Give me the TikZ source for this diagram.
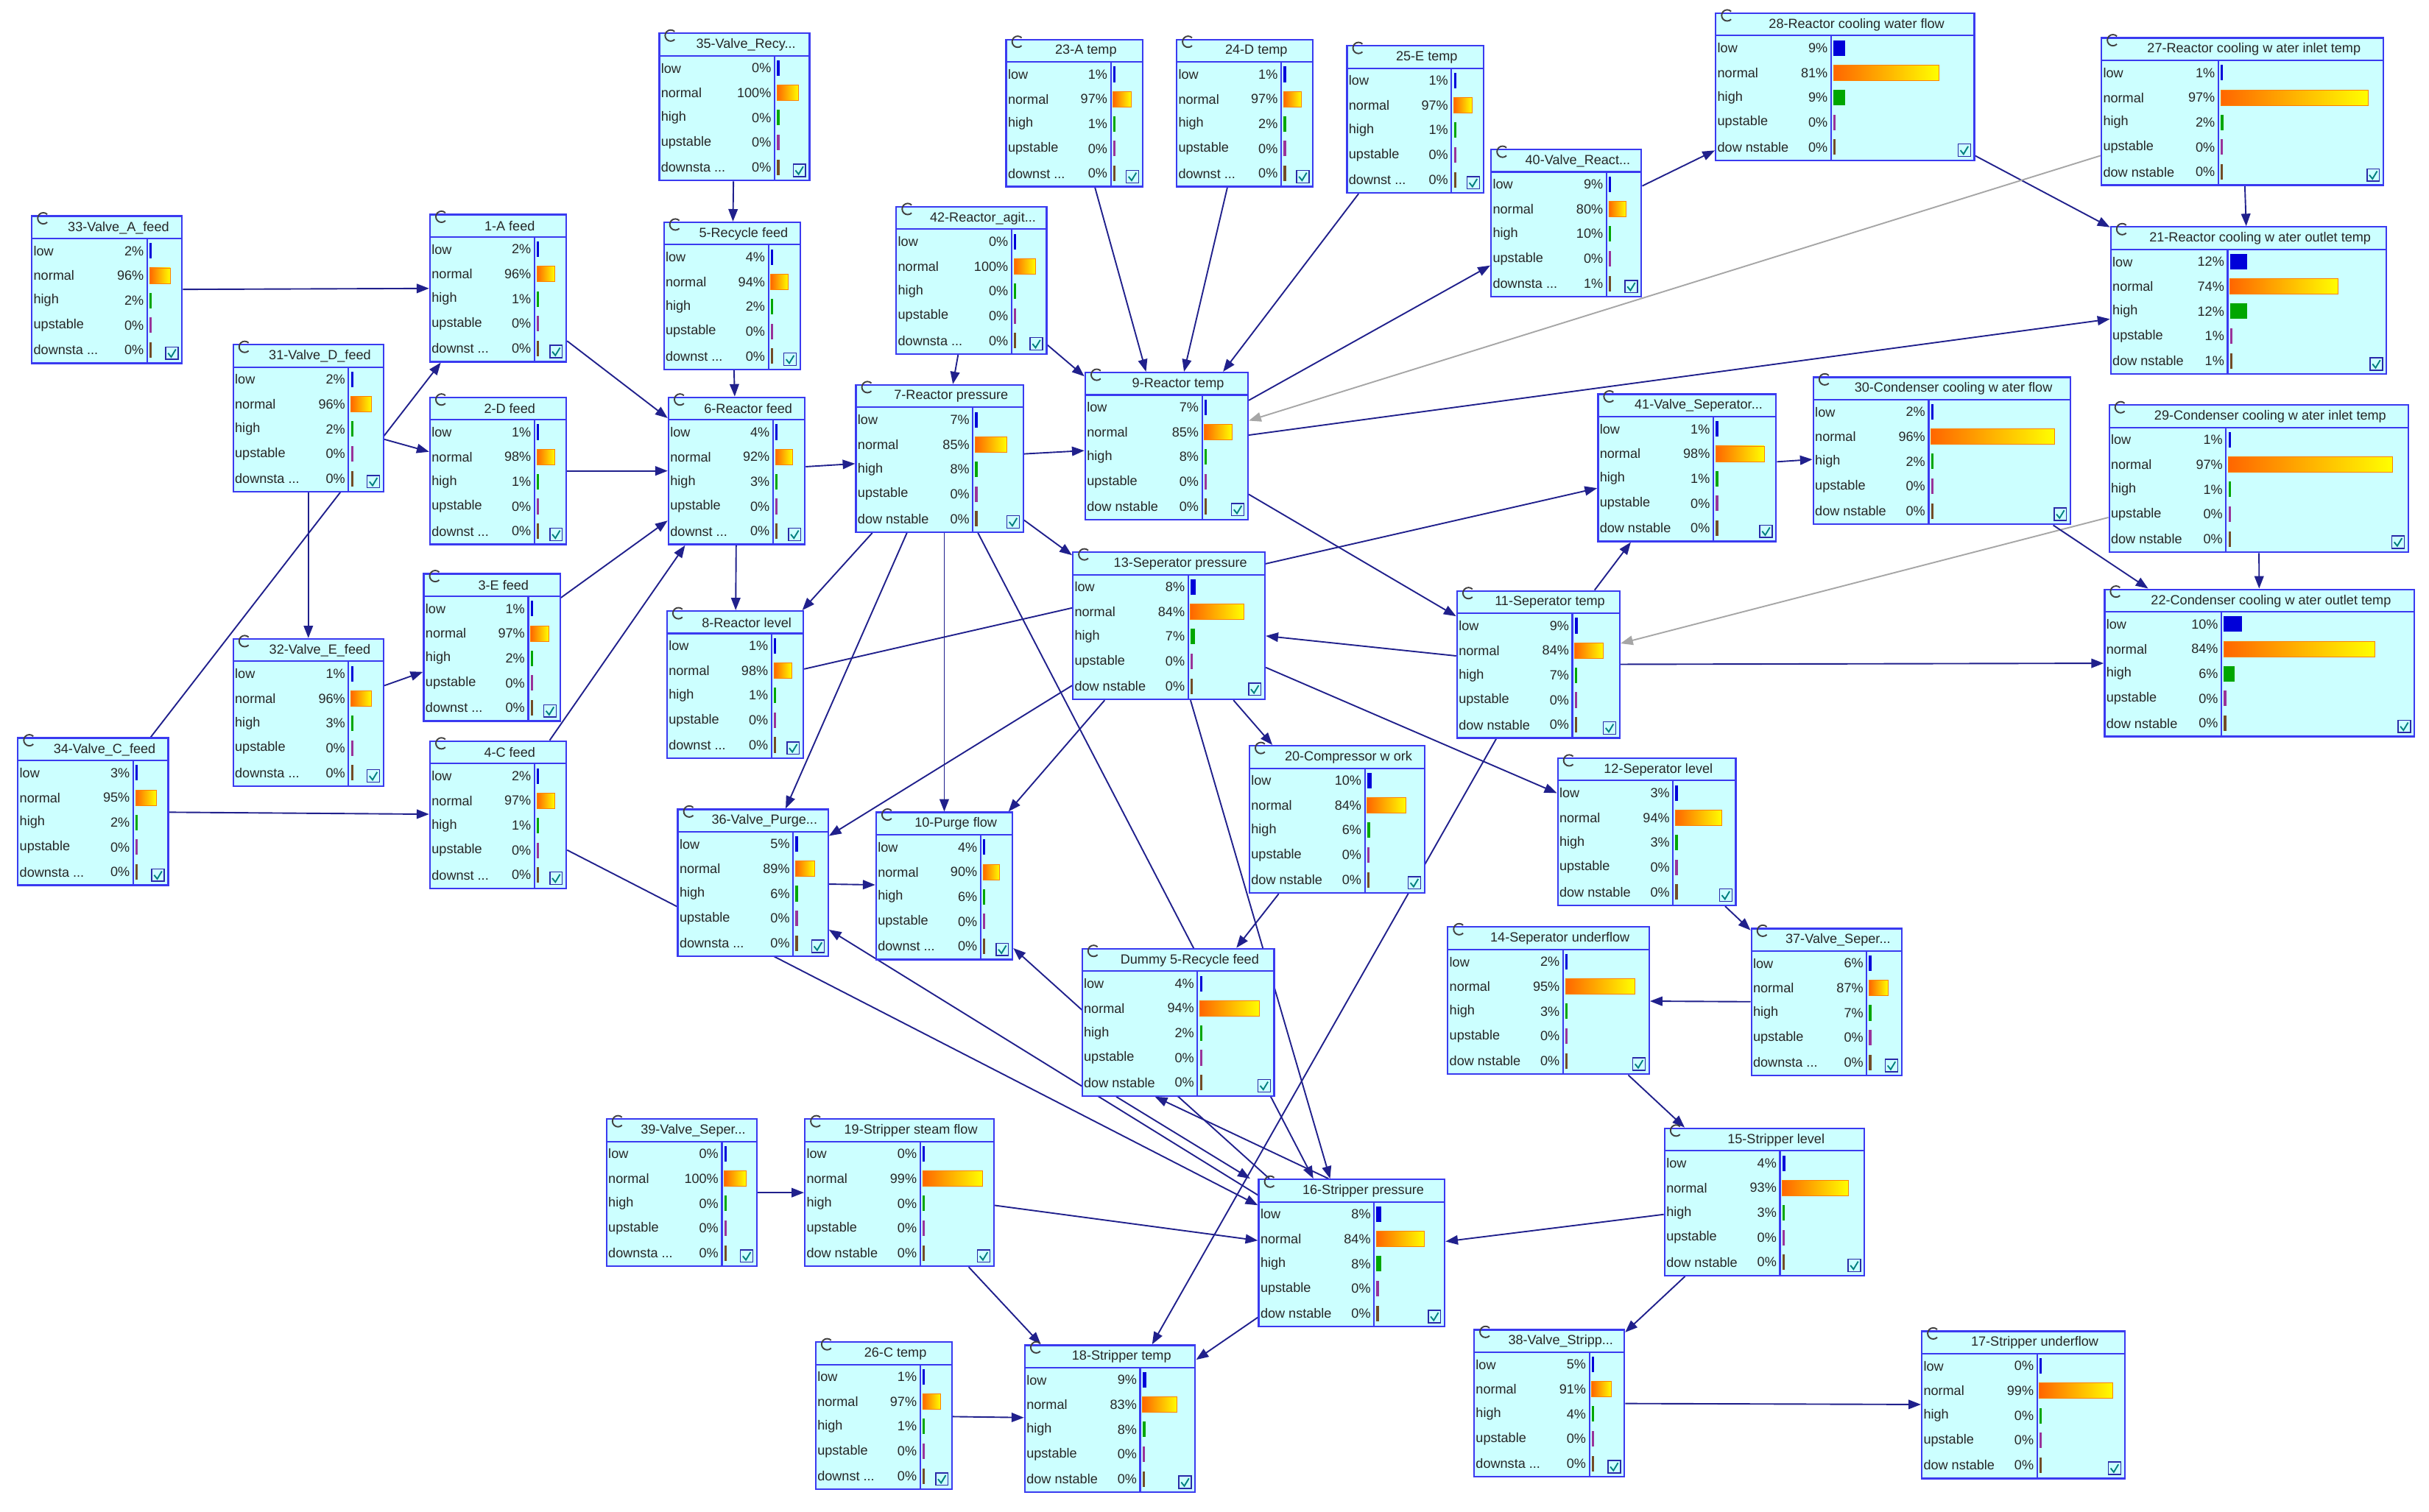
\documentclass[tikz,border=0pt]{standalone}
\usepackage{fontspec}
\newfontfamily\bnfont{Liberation Sans}
\usetikzlibrary{arrows.meta,backgrounds,calc}
\definecolor{boxfill}{HTML}{CCFFFF}
\definecolor{boxline}{HTML}{3A3AF0}
\definecolor{edge}{HTML}{20208C}
\tikzset{
  box/.style={draw=boxline,fill=boxfill,line width=1.1pt,inner sep=0pt},
  bline/.style={draw=boxline,line width=1pt},
  txt/.style={inner sep=0pt,font=\bnfont\fontsize{8.6}{10}\selectfont,text=black!85},
  ttl/.style={inner sep=0pt,font=\bnfont\fontsize{8.6}{10}\selectfont,text=black!85},
  e/.style={draw=edge,line width=0.9pt,-{Triangle[length=8pt,width=6pt]}},
  g/.style={draw=gray!70,line width=0.9pt,-{Triangle[length=8pt,width=6pt]}},
}
% name x y w title pcts downlabel sep
\newcommand\bn[8]{%
  \node[box,minimum width=#4pt,minimum height=95pt,anchor=north west] (#1) at (#2,#3) {};
  \draw[bline] (#2,#3+15) -- ++(#4,0);
  \draw[bline] (#2+#8,#3+15) -- (#2+#8,#3+95);
  \draw[black!75,line width=0.9pt] (#2+10.5,#3+4.5) arc[start angle=45,end angle=315,radius=3.6];
  \node[ttl] at (#2+8+#4/2,#3+8) {#5};
  \foreach \p [count=\i] in {#6}{%
    \pgfmathsetmacro\ry{#3+7+\i*16}%
    \node[txt,anchor=west] at (#2+1.5,\ry) {\ifcase\i\or low\or normal\or high\or upstable\or #7\fi};
    \node[txt,anchor=east] at (#2+#8-2,\ry) {\p\%};
    \pgfmathsetmacro\bw{max(1.6,\p/100*(#4-#8-8))}%
    \ifcase\i\or
      \fill[blue!85!black] (#2+#8+1.5,\ry-5) rectangle ++(\bw,10);
    \or
      \shade[left color=orange!80!red,right color=yellow,draw=orange] (#2+#8+1.5,\ry-5) rectangle ++(\bw,10);
    \or
      \fill[green!65!black] (#2+#8+1.5,\ry-5) rectangle ++(\bw,10);
    \or
      \fill[violet!80] (#2+#8+1.5,\ry-5) rectangle ++(\bw,10);
    \or
      \fill[brown!60!black] (#2+#8+1.5,\ry-5) rectangle ++(\bw,10);
    \fi
  }
  \draw[draw=boxline!70!black,fill=boxfill,line width=0.7pt] (#2+#4-10,#3+85) rectangle ++(8,8);
  \draw[teal,line width=0.9pt] (#2+#4-8.5,#3+89) -- (#2+#4-6.5,#3+91.5) -- (#2+#4-3.5,#3+86.5);
}
\begin{document}
\begin{tikzpicture}[x=1pt,y=-1pt]
\useasboundingbox (0,0) rectangle (1568,976);
\bn{n33}{20}{139}{97}{33-Valve\_A\_feed}{2,96,2,0,0}{downsta ...}{75}
\bn{n1}{277}{138}{88}{1-A feed}{2,96,1,0,0}{downst ...}{68}
\bn{n35}{425}{21}{97}{35-Valve\_Recy...}{0,100,0,0,0}{downsta ...}{75}
\bn{n5}{428}{143}{88}{5-Recycle feed}{4,94,2,0,0}{downst ...}{68}
\bn{n42}{578}{133}{97}{42-Reactor\_agit...}{0,100,0,0,0}{downsta ...}{75}
\bn{n23}{649}{25}{88}{23-A temp}{1,97,1,0,0}{downst ...}{68}
\bn{n24}{759}{25}{88}{24-D temp}{1,97,2,0,0}{downst ...}{68}
\bn{n25}{869}{29}{88}{25-E temp}{1,97,1,0,0}{downst ...}{68}
\bn{n40}{962}{96}{97}{40-Valve\_React...}{9,80,10,0,1}{downsta ...}{75}
\bn{n28}{1107}{8}{167}{28-Reactor cooling water flow}{9,81,9,0,0}{dow nstable}{75}
\bn{n27}{1356}{24}{182}{27-Reactor cooling w ater inlet temp}{1,97,2,0,0}{dow nstable}{76}
\bn{n21}{1362}{146}{178}{21-Reactor cooling w ater outlet temp}{12,74,12,1,1}{dow nstable}{76}
\bn{n31}{150}{222}{97}{31-Valve\_D\_feed}{2,96,2,0,0}{downsta ...}{75}
\bn{n2}{277}{256}{88}{2-D feed}{1,98,1,0,0}{downst ...}{68}
\bn{n6}{431}{256}{88}{6-Reactor feed}{4,92,3,0,0}{downst ...}{68}
\bn{n7}{552}{248}{108}{7-Reactor pressure}{7,85,8,0,0}{dow nstable}{76}
\bn{n9}{700}{240}{105}{9-Reactor temp}{7,85,8,0,0}{dow nstable}{76}
\bn{n41}{1031}{254}{115}{41-Valve\_Seperator...}{1,98,1,0,0}{dow nstable}{75}
\bn{n30}{1170}{243}{166}{30-Condenser cooling w ater flow}{2,96,2,0,0}{dow nstable}{75}
\bn{n29}{1361}{261}{193}{29-Condenser cooling w ater inlet temp}{1,97,1,0,0}{dow nstable}{76}
\bn{n3}{273}{370}{88}{3-E feed}{1,97,2,0,0}{downst ...}{68}
\bn{n8}{430}{394}{88}{8-Reactor level}{1,98,1,0,0}{downst ...}{68}
\bn{n13}{692}{356}{124}{13-Seperator pressure}{8,84,7,0,0}{dow nstable}{75}
\bn{n11}{940}{381}{105}{11-Seperator temp}{9,84,7,0,0}{dow nstable}{75}
\bn{n22}{1358}{380}{200}{22-Condenser cooling w ater outlet temp}{10,84,6,0,0}{dow nstable}{76}
\bn{n32}{150}{412}{97}{32-Valve\_E\_feed}{1,96,3,0,0}{downsta ...}{75}
\bn{n34}{11}{476}{97}{34-Valve\_C\_feed}{3,95,2,0,0}{downsta ...}{75}
\bn{n4}{277}{478}{88}{4-C feed}{2,97,1,0,0}{downst ...}{68}
\bn{n36}{437}{522}{97}{36-Valve\_Purge...}{5,89,6,0,0}{downsta ...}{75}
\bn{n10}{565}{524}{88}{10-Purge flow}{4,90,6,0,0}{downst ...}{68}
\bn{n20}{806}{481}{113}{20-Compressor w ork}{10,84,6,0,0}{dow nstable}{75}
\bn{n12}{1005}{489}{115}{12-Seperator level}{3,94,3,0,0}{dow nstable}{75}
\bn{n14}{934}{598}{130}{14-Seperator underflow}{2,95,3,0,0}{dow nstable}{75}
\bn{n37}{1130}{599}{97}{37-Valve\_Seper...}{6,87,7,0,0}{downsta ...}{75}
\bn{d5}{698}{612}{124}{Dummy 5-Recycle feed}{4,94,2,0,0}{dow nstable}{75}
\bn{n39}{391}{722}{97}{39-Valve\_Seper...}{0,100,0,0,0}{downsta ...}{75}
\bn{n19}{519}{722}{122}{19-Stripper steam flow}{0,99,0,0,0}{dow nstable}{75}
\bn{n16}{812}{761}{120}{16-Stripper pressure}{8,84,8,0,0}{dow nstable}{75}
\bn{n15}{1074}{728}{129}{15-Stripper level}{4,93,3,0,0}{dow nstable}{75}
\bn{n26}{526}{866}{88}{26-C temp}{1,97,1,0,0}{downst ...}{68}
\bn{n18}{661}{868}{110}{18-Stripper temp}{9,83,8,0,0}{dow nstable}{75}
\bn{n38}{951}{858}{97}{38-Valve\_Stripp...}{5,91,4,0,0}{downsta ...}{75}
\bn{n17}{1240}{859}{131}{17-Stripper underflow}{0,99,0,0,0}{dow nstable}{75}
\begin{pgfonlayer}{background}
\draw[e] (n33) -- (n1);
\draw[e] (n34) -- (n1);
\draw[e] (n31) -- (n2);
\draw[e] (n31) -- (n32);
\draw[e] (n32) -- (n3);
\draw[e] (n34) -- (n4);
\draw[e] (n1) -- (n6);
\draw[e] (n2) -- (n6);
\draw[e] (n3) -- (n6);
\draw[e] (n4) -- (n6);
\draw[e] (n5) -- (n6);
\draw[e] (n35) -- (n5);
\draw[e] (n6) -- (n7);
\draw[e] (n6) -- (n8);
\draw[e] (n42) -- (n7);
\draw[e] (n42) -- (n9);
\draw[e] (n7) -- (n9);
\draw[e] (n7) -- (n13);
\draw[e] (n7) -- (n8);
\draw[e] (n7) -- (n36);
\draw[e] (n7.south-|n10.north) -- (n10);
\draw[e] (n7) -- (n16);
\draw[e] (n23) -- (n9);
\draw[e] (n24) -- (n9);
\draw[e] (n25) -- (n9);
\draw[e] (n9) -- (n40);
\draw[e] (n40) -- (n28);
\draw[e] (n28) -- (n21);
\draw[e] (n27) -- (n21);
\draw[e] (n9) -- (n21);
\draw[g] (n27) -- (n9);
\draw[g] (n29) -- (n11);
\draw[e] (n9) -- (n11);
\draw[e] (n8) -- (n41);
\draw[e] (n41) -- (n30);
\draw[e] (n30) -- (n22);
\draw[e] (n29) -- (n22);
\draw[e] (n11) -- (n22);
\draw[e] (n11) -- (n41);
\draw[e] (n11) -- (n13);
\draw[e] (n11) -- (n18);
\draw[e] (n13) -- (n36);
\draw[e] (n13) -- (n10);
\draw[e] (n13) -- (n16);
\draw[e] (n13) -- (n20);
\draw[e] (n13) -- (n12);
\draw[e] (n20) -- (d5);
\draw[e] (n12) -- (n37);
\draw[e] (n37) -- (n14);
\draw[e] (n14) -- (n15);
\draw[e] (n15) -- (n16);
\draw[e] (n15) -- (n38);
\draw[e] (n38) -- (n17);
\draw[e] ([xshift=-15pt]n16.north) -- ([xshift=-15pt]d5.south);
\draw[e] ([xshift=-40pt]d5.south) -- ([xshift=-5pt]n16.north west);
\draw[e] (n16) -- (n36);
\draw[e] (n16) -- (n10);
\draw[e] (n4) -- (n16);
\draw[e] (n36) -- (n10);
\draw[e] (n19) -- (n16);
\draw[e] (n19) -- (n18);
\draw[e] (n39) -- (n19);
\draw[e] (n26) -- (n18);
\draw[e] (n16) -- (n18);
\end{pgfonlayer}
\end{tikzpicture}
\end{document}
